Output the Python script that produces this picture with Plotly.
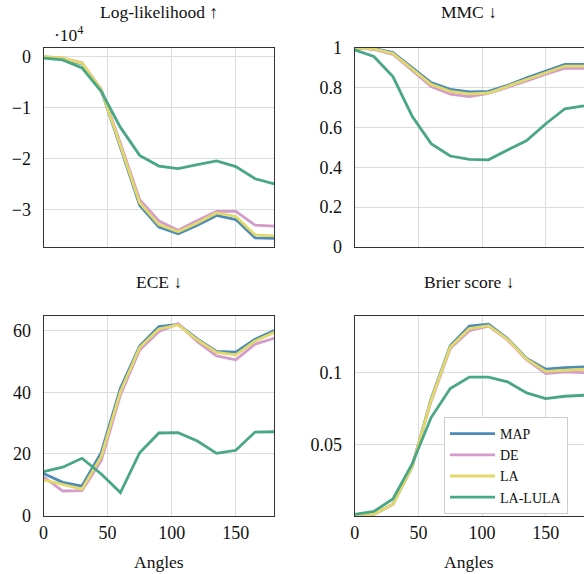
import plotly.graph_objects as go

angles = [0, 15, 30, 45, 60, 75, 90, 105, 120, 135, 150, 165, 180]
methods = ["MAP", "DE", "LA", "LA-LULA"]
colors = {"MAP": "#4a8bb8", "DE": "#d39ccb", "LA": "#e2d96a", "LA-LULA": "#49a786"}

loglik = {
    "MAP": [-100, -500, -1400, -6600, -17800, -29200, -33500, -34800, -33100, -31200, -32000, -35600, -35700],
    "DE": [0, -300, -1200, -6400, -17000, -28100, -32300, -34100, -32200, -30400, -30400, -33100, -33300],
    "LA": [0, -300, -1300, -6500, -17500, -28700, -33000, -34400, -32700, -30700, -31400, -35000, -35200],
    "LA-LULA": [-300, -650, -2200, -6800, -13900, -19400, -21500, -22000, -21200, -20500, -21600, -24000, -25000],
}
mmc = {
    "MAP": [0.998, 0.995, 0.975, 0.900, 0.824, 0.790, 0.777, 0.780, 0.810, 0.848, 0.883, 0.915, 0.915],
    "DE": [1.000, 0.990, 0.966, 0.883, 0.804, 0.766, 0.754, 0.770, 0.800, 0.832, 0.866, 0.896, 0.896],
    "LA": [0.998, 0.993, 0.970, 0.890, 0.815, 0.780, 0.768, 0.772, 0.805, 0.840, 0.875, 0.907, 0.907],
    "LA-LULA": [0.988, 0.955, 0.854, 0.657, 0.518, 0.456, 0.439, 0.437, 0.486, 0.534, 0.618, 0.693, 0.707],
}
ece = {
    "MAP": [13.7, 10.8, 9.6, 20.4, 41.3, 55.0, 61.3, 62.0, 57.3, 53.2, 53.0, 57.2, 60.0],
    "DE": [12.6, 8.0, 8.1, 17.8, 39.1, 53.7, 59.7, 62.2, 56.4, 51.8, 50.5, 55.6, 57.5],
    "LA": [11.6, 10.2, 8.6, 19.1, 40.2, 54.5, 60.5, 61.8, 57.0, 52.9, 52.1, 56.6, 59.4],
    "LA-LULA": [14.3, 15.7, 18.6, 13.5, 7.5, 20.4, 26.8, 26.9, 24.2, 20.2, 21.2, 27.1, 27.2],
}
brier = {
    "MAP": [0.000, 0.001, 0.008, 0.034, 0.082, 0.119, 0.1327, 0.134, 0.124, 0.110, 0.1026, 0.1037, 0.1042],
    "DE": [0.000, 0.001, 0.008, 0.035, 0.080, 0.117, 0.1295, 0.1327, 0.123, 0.109, 0.0995, 0.1007, 0.1002],
    "LA": [0.000, 0.001, 0.008, 0.034, 0.081, 0.118, 0.131, 0.133, 0.1235, 0.1095, 0.101, 0.102, 0.1025],
    "LA-LULA": [0.001, 0.003, 0.0117, 0.036, 0.0687, 0.089, 0.097, 0.097, 0.0937, 0.086, 0.082, 0.0836, 0.0843],
}

titles = ["Log-likelihood ↑", "MMC ↓", "ECE ↓", "Brier score ↓"]
x_ticks = [0, 50, 100, 150]
ll_tickvals = [0, -10000, -20000, -30000]
ll_ticktext = ["0", "−1", "−2", "−3"]
mmc_tickvals = [0, 0.2, 0.4, 0.6, 0.8, 1.0]
mmc_ticktext = ["0", "0.2", "0.4", "0.6", "0.8", "1"]
ece_tickvals = [0, 20, 40, 60]
brier_tickvals = [0.05, 0.1]
brier_ticktext = ["0.05", "0.1"]

W, H = 584, 574
FONT = "Liberation Serif"
GRID = "#dcdcdc"
AX = "#333333"

fig = go.Figure()

panels = [
    (loglik, "x", "y", False),
    (mmc, "x2", "y2", False),
    (ece, "x3", "y3", False),
    (brier, "x4", "y4", True),
]
for data, xa, ya, show_leg in panels:
    for m in methods:
        fig.add_trace(go.Scatter(
            x=angles, y=data[m], mode="lines", name=m,
            line=dict(color=colors[m], width=2.8),
            xaxis=xa, yaxis=ya, showlegend=show_leg,
        ))

def px_x(a, b):
    return [a / W, min(b / W, 1.0)]

def px_y(top, bottom):
    return [1 - bottom / H, 1 - top / H]

left = px_x(43.5, 274.3)
right = px_x(354.7, 585)
toprow = px_y(47.5, 247)
botrow = px_y(315.7, 515.7)

tickfont = dict(family=FONT, size=18, color="#111")

def xaxis(domain, anchor, labels, mirror=True):
    return dict(domain=domain, anchor=anchor, range=[0, 180],
                tickvals=x_ticks, showgrid=True, gridcolor=GRID, gridwidth=1,
                showline=True, linecolor=AX, linewidth=1, mirror=mirror,
                zeroline=False, ticks="", tickfont=tickfont, automargin=False,
                showticklabels=labels, ticklabelstandoff=1)

def yaxis(domain, anchor, rng, tv, tt, mirror=True):
    return dict(domain=domain, anchor=anchor, range=rng, tickvals=tv, ticktext=tt,
                showgrid=True, gridcolor=GRID, gridwidth=1,
                showline=True, linecolor=AX, linewidth=1, mirror=mirror,
                zeroline=False, ticks="", tickfont=tickfont, automargin=False,
                ticklabelstandoff=8)

fig.update_layout(
    width=W, height=H,
    margin=dict(l=0, r=0, t=0, b=0, autoexpand=False),
    plot_bgcolor="white", paper_bgcolor="white",
    font=dict(family=FONT, color="#111"),
    xaxis=xaxis(left, "y", False),
    yaxis=yaxis(toprow, "x", [-37400, 1800], ll_tickvals, ll_ticktext),
    xaxis2=xaxis(right, "y2", False),
    yaxis2=yaxis(toprow, "x2", [0, 1], mmc_tickvals, mmc_ticktext, mirror=False),
    xaxis3=xaxis(left, "y3", True),
    yaxis3=yaxis(botrow, "x3", [0, 64.8], ece_tickvals, [str(v) for v in ece_tickvals]),
    xaxis4=xaxis(right, "y4", True),
    yaxis4=yaxis(botrow, "x4", [0, 0.14], brier_tickvals, brier_ticktext, mirror=False),
    legend=dict(x=444 / W, y=1 - 417 / H, xanchor="left", yanchor="top",
                bgcolor="white", bordercolor="#cccccc", borderwidth=1,
                font=dict(family=FONT, size=14, color="#111"),
                itemwidth=45, tracegroupgap=0),
    showlegend=True,
)

def annot(text, cx, cy, size=17.5, xanchor="center"):
    fig.add_annotation(text=text, x=cx / W, y=1 - cy / H, xref="paper", yref="paper",
                       showarrow=False, xanchor=xanchor, yanchor="middle",
                       font=dict(family=FONT, size=size, color="#111"))

title_pos = [((43.5 + 274.3) / 2, 12), ((354.7 + 584) / 2, 12),
             ((43.5 + 274.3) / 2, 282), ((354.7 + 584) / 2, 282)]
for t, (cx, cy) in zip(titles, title_pos):
    annot(t, cx, cy)

annot("Angles", (43.5 + 274.3) / 2, 562)
annot("Angles", (354.7 + 584) / 2, 562)
annot("·10<sup>4</sup>", 52, 34, xanchor="left")

fig.write_html("out.html", config={"displayModeBar": False},
               post_script="document.body.style.margin='0';document.body.style.overflow='hidden';")
